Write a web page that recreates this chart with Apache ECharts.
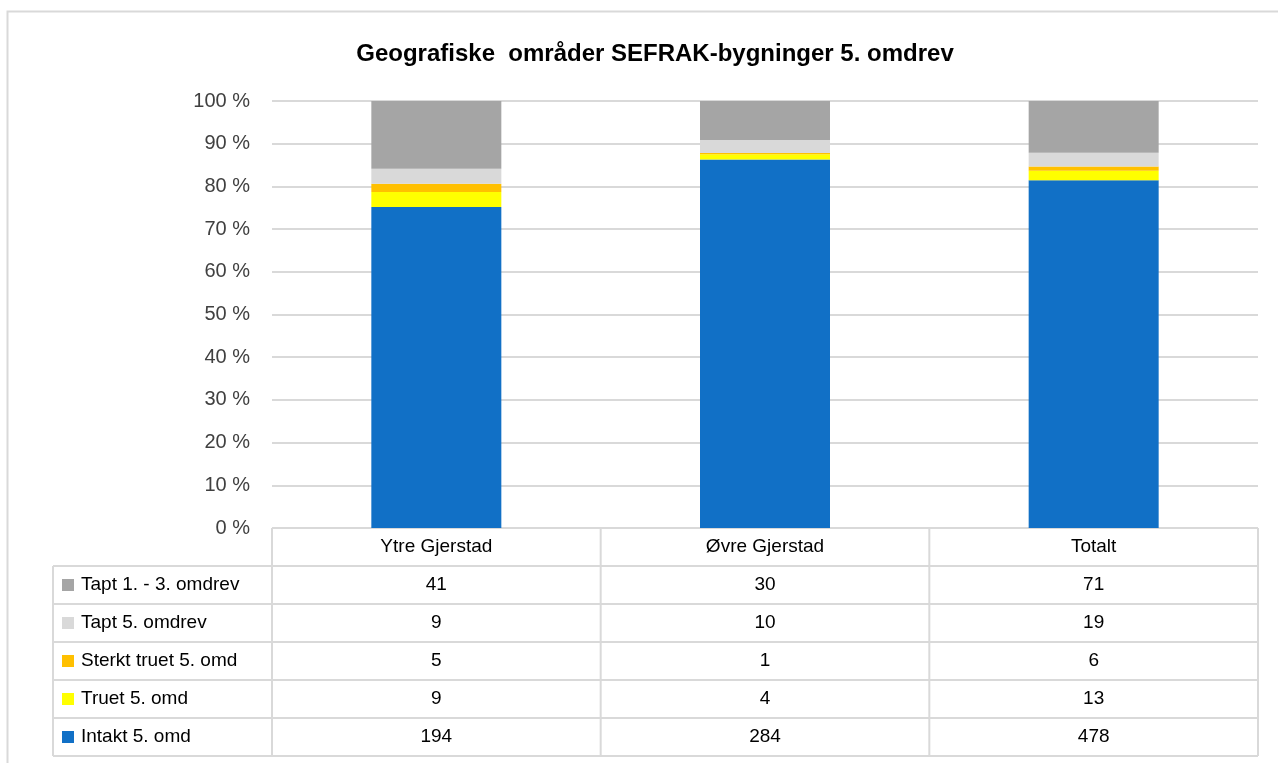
<!DOCTYPE html>
<html>
<head>
<meta charset="utf-8">
<script src="https://cdn.jsdelivr.net/npm/echarts@6/dist/echarts.min.js"></script>
<style>
  html, body { margin: 0; padding: 0; background: #fff; }
  #chart { width: 1278px; height: 763px; }
</style>
</head>
<body>
<div id="chart"></div>
<script>
// data
var categories = ['Ytre Gjerstad', 'Øvre Gjerstad', 'Totalt'];
var seriesNames = ['Intakt 5. omd', 'Truet 5. omd', 'Sterkt truet 5. omd', 'Tapt 5. omdrev', 'Tapt 1. - 3. omdrev'];
var intakt = [194, 284, 478];
var truet = [9, 4, 13];
var sterktTruet = [5, 1, 6];
var tapt5 = [9, 10, 19];
var tapt13 = [41, 30, 71];
var yTicks = [0, 10, 20, 30, 40, 50, 60, 70, 80, 90, 100];

var colors = ['#1170c6', '#ffff00', '#ffc000', '#d9d9d9', '#a5a5a5'];
var counts = [intakt, truet, sterktTruet, tapt5, tapt13];

var totals = categories.map(function(c, i) {
    return counts.reduce(function(s, arr) { return s + arr[i]; }, 0);
});

var font = 'Liberation Sans, sans-serif';

// layout
var gridLeft = 272, gridRight = 1258, gridTop = 101, gridBottom = 528;
var rowH = 38;
var legendLeft = 53;
var lineColor = '#d9d9d9';
var colW = (gridRight - gridLeft) / categories.length;

var graphics = [];

// outer frame
graphics.push({
    type: 'rect',
    shape: { x: 7.5, y: 11.5, width: 1290, height: 800 },
    style: { fill: 'none', stroke: '#d9d9d9', lineWidth: 2 }
});

// table grid lines
var tableBottom = gridBottom + rowH * (seriesNames.length + 1);
for (var r = 0; r <= seriesNames.length + 1; r++) {
    var y = gridBottom + r * rowH;
    graphics.push({
        type: 'line',
        shape: { x1: r === 0 ? gridLeft : legendLeft, y1: y, x2: gridRight, y2: y },
        style: { stroke: lineColor, lineWidth: 2 }
    });
}
for (var c = 0; c <= categories.length; c++) {
    var x = gridLeft + c * colW;
    graphics.push({
        type: 'line',
        shape: { x1: x, y1: gridBottom, x2: x, y2: tableBottom },
        style: { stroke: lineColor, lineWidth: 2 }
    });
}
graphics.push({
    type: 'line',
    shape: { x1: legendLeft, y1: gridBottom + rowH, x2: legendLeft, y2: tableBottom },
    style: { stroke: lineColor, lineWidth: 2 }
});

// header row
categories.forEach(function(cat, i) {
    graphics.push({
        type: 'text',
        x: gridLeft + (i + 0.5) * colW,
        y: gridBottom + rowH / 2,
        style: { text: cat, font: '19px ' + font, fill: '#000', align: 'center', verticalAlign: 'middle' }
    });
});

// data rows: top row is last series
for (var k = 0; k < seriesNames.length; k++) {
    var s = seriesNames.length - 1 - k;
    var rowY = gridBottom + (k + 1) * rowH + rowH / 2;
    graphics.push({
        type: 'rect',
        shape: { x: 62, y: rowY - 6, width: 12, height: 12 },
        style: { fill: colors[s] }
    });
    graphics.push({
        type: 'text',
        x: 81,
        y: rowY,
        style: { text: seriesNames[s], font: '19px ' + font, fill: '#000', verticalAlign: 'middle' }
    });
    categories.forEach(function(cat, i) {
        graphics.push({
            type: 'text',
            x: gridLeft + (i + 0.5) * colW,
            y: rowY,
            style: { text: String(counts[s][i]), font: '19px ' + font, fill: '#000', align: 'center', verticalAlign: 'middle' }
        });
    });
}

var chart = echarts.init(document.getElementById('chart'));

var option = {
    backgroundColor: '#fff',
    animation: false,
    title: {
        text: 'Geografiske  områder SEFRAK-bygninger 5. omdrev',
        left: 650,
        textAlign: 'center',
        top: 37,
        textStyle: { fontFamily: font, fontSize: 24, fontWeight: 'bold', color: '#000' }
    },
    grid: {
        left: gridLeft,
        right: 1278 - gridRight,
        top: gridTop,
        bottom: 763 - gridBottom
    },
    xAxis: {
        type: 'category',
        data: categories,
        axisLine: { show: false },
        axisTick: { show: false },
        axisLabel: { show: false }
    },
    yAxis: {
        type: 'value',
        min: 0,
        max: 100,
        interval: 10,
        axisLabel: {
            formatter: function(v) { return yTicks.indexOf(v) >= 0 ? v + ' %' : ''; },
            fontFamily: font,
            fontSize: 20,
            color: '#404040',
            margin: 22
        },
        splitLine: { lineStyle: { color: lineColor, width: 2 } }
    },
    series: seriesNames.map(function(name, s) {
        return {
            name: name,
            type: 'bar',
            stack: 'total',
            barWidth: 130,
            itemStyle: { color: colors[s] },
            data: counts[s].map(function(v, i) { return v / totals[i] * 100; })
        };
    }),
    graphic: graphics
};

chart.setOption(option);
</script>
</body>
</html>
